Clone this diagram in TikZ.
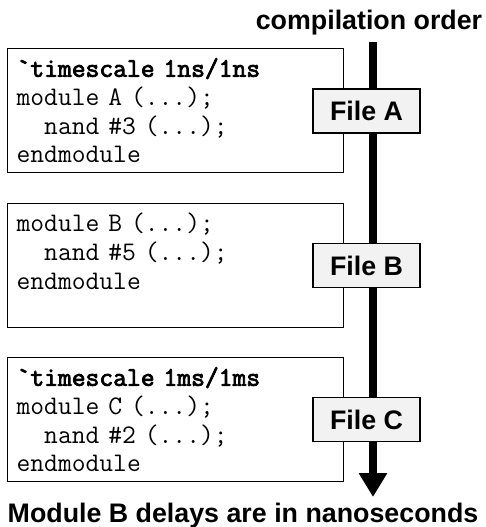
\documentclass[tikz,border=0pt]{standalone}
\usepackage{fontspec}
\setsansfont{Liberation Sans}
\newfontfamily\codebold[FakeBold=3]{Latin Modern Mono}
\usetikzlibrary{arrows.meta}
\tikzset{
	codebox/.style={draw, line width=0.6pt, anchor=north west, text width=159pt, inner xsep=4.5pt, minimum height=62pt, align=left, font=\ttfamily\fontsize{13.4}{14.35}\selectfont},
	filebox/.style={draw, fill=black!5, line width=0.6pt, minimum width=53.5pt, minimum height=22pt, inner sep=0pt, font=\sffamily\bfseries\fontsize{13.4}{16}\selectfont},
	caption/.style={anchor=base, inner sep=0pt, font=\sffamily\bfseries\fontsize{13.4}{16}\selectfont},
}

\begin{document}
\begin{tikzpicture}[x=0.5pt, y=-0.5pt]
			%%%%% START %%%%%
			\useasboundingbox (0, 0) rectangle (486, 527);
			
			\node[caption] (order) at (369, 29) {compilation order};
			\coordinate (top) at (373, 42);
			\coordinate (tip) at (373, 497);
			\draw[line width=4pt, -{Triangle[width=13.5pt, length=12pt]}] (top) -- (tip);
			
			\node[codebox] (codeA) at (7, 48) {{\codebold`timescale 1ns/1ns}\\module A (...);\\\phantom{xx}nand \#3 (...);\\endmodule};
			\node[filebox] (fileA) at (366.5, 111) {File A};
			
			\node[codebox] (codeB) at (7, 203) {module B (...);\\\phantom{xx}nand \#5 (...);\\endmodule\\\mbox{}};
			\node[filebox] (fileB) at (366.5, 265.5) {File B};
			
			\node[codebox] (codeC) at (7, 357) {{\codebold`timescale 1ms/1ms}\\module C (...);\\\phantom{xx}nand \#2 (...);\\endmodule};
			\node[filebox] (fileC) at (366.5, 419.5) {File C};
			
			\node[caption] (note) at (243, 522) {Module B delays are in nanoseconds};
			
			%%%%% END %%%%%
\end{tikzpicture}
\end{document}
